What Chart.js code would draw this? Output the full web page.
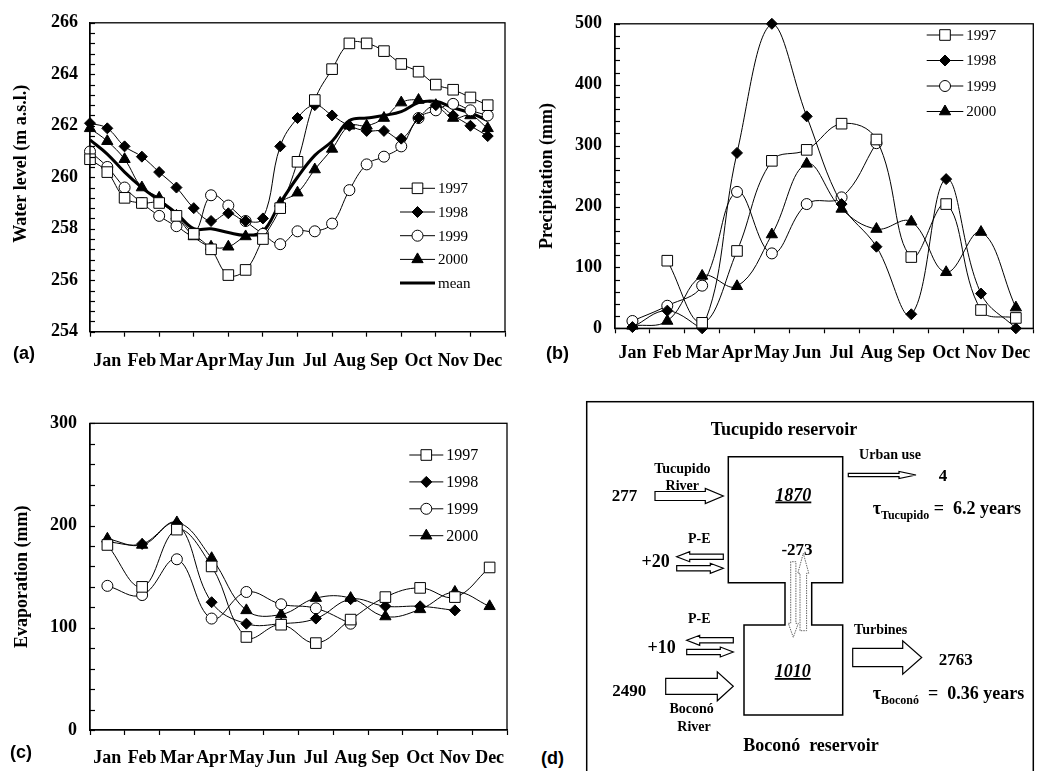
<!DOCTYPE html>
<html>
<head>
<meta charset="utf-8">
<script src="https://cdn.jsdelivr.net/npm/chart.js@4.4.1/dist/chart.umd.min.js"></script>
<style>
  html, body { margin: 0; padding: 0; background: #fff; }
  body { width: 1043px; height: 771px; position: relative; overflow: hidden; }
  .painel { position: absolute; }
  .letra { position: absolute; font: bold 18px "Liberation Sans", Arial, sans-serif; line-height: 20px; color: #000; }
  #esquema { position: absolute; left: 0; top: 0; }
  #esquema text { font-family: "Liberation Serif", "Times New Roman", serif; font-weight: bold; fill: #000; white-space: pre; }
</style>
</head>
<body>
<div class="painel" style="left:0;top:0;width:520px;height:380px"><canvas id="grafico-nivel"></canvas></div>
<div class="painel" style="left:520px;top:0;width:523px;height:380px"><canvas id="grafico-chuva"></canvas></div>
<div class="painel" style="left:0;top:390px;width:520px;height:381px"><canvas id="grafico-evap"></canvas></div>

<div class="letra" style="left:13px;top:343px">(a)</div>
<div class="letra" style="left:546px;top:343px">(b)</div>
<div class="letra" style="left:10px;top:742px">(c)</div>
<div class="letra" style="left:541px;top:748px">(d)</div>

<svg id="esquema" width="1043" height="771" xmlns="http://www.w3.org/2000/svg"></svg>

<script>
// ---- dados ----
const meses = ["Jan", "Feb", "Mar", "Apr", "May", "Jun", "Jul", "Aug", "Sep", "Oct", "Nov", "Dec"];
const marcasMes = [0, 0.5, 1, 1.5, 2, 2.5, 3, 3.5, 4, 4.5, 5, 5.5, 6, 6.5, 7, 7.5, 8, 8.5, 9, 9.5, 10, 10.5, 11, 11.5, 12];
const quinzenas = [0, 0.5, 1, 1.5, 2, 2.5, 3, 3.5, 4, 4.5, 5, 5.5, 6, 6.5, 7, 7.5, 8, 8.5, 9, 9.5, 10, 10.5, 11, 11.5];
const meioMes = [0.5, 1.5, 2.5, 3.5, 4.5, 5.5, 6.5, 7.5, 8.5, 9.5, 10.5, 11.5];

// (a) nivel da agua (m a.s.l.), duas leituras por mes
const nivel1997 = [260.7, 260.2, 259.2, 259.0, 259.0, 258.5, 257.8, 257.2, 256.2, 256.4, 257.6, 258.8, 260.6, 263.0, 264.2, 265.2, 265.2, 264.9, 264.4, 264.1, 263.6, 263.4, 263.1, 262.8];
const nivel1998 = [262.1, 261.9, 261.2, 260.8, 260.2, 259.6, 258.8, 258.3, 258.6, 258.3, 258.4, 261.2, 262.3, 262.8, 262.4, 262.0, 261.8, 261.8, 261.5, 262.3, 262.8, 262.4, 262.0, 261.6];
const nivel1999 = [261.0, 260.4, 259.6, 259.0, 258.5, 258.1, 257.8, 259.3, 258.9, 258.3, 257.8, 257.4, 257.9, 257.9, 258.2, 259.5, 260.5, 260.8, 261.2, 262.3, 262.6, 262.85, 262.6, 262.4];
const nivel2000 = [261.9, 261.4, 260.7, 259.6, 259.2, 258.5, 257.7, 257.3, 257.3, 257.7, 257.8, 259.0, 259.4, 260.3, 261.1, 262.0, 262.0, 262.3, 262.9, 263.0, 262.8, 262.3, 262.4, 261.9];
const nivelMedia = [261.45, 260.9, 260.2, 259.6, 259.1, 258.6, 258.0, 258.0, 257.85, 257.75, 257.9, 259.0, 260.0, 260.85, 261.4, 262.2, 262.3, 262.4, 262.55, 262.9, 262.95, 262.7, 262.5, 262.2];
const rotulosNivel = [254, 256, 258, 260, 262, 264, 266];

// (b) precipitacao (mm)
const chuva1997 = [null, 111, 9, 127, 275, 293, 336, 310, 117, 204, 30, 17];
const chuva1998 = [2, 29, 0, 288, 500, 348, 204, 134, 23, 245, 57, 0];
const chuva1999 = [12, 37, 70, 224, 123, 204, 215, 304, null, null, null, null];
const chuva2000 = [4, 12, 86, 69, 154, 270, 196, 163, 175, 92, 158, 34];
const rotulosChuva = [0, 100, 200, 300, 400, 500];

// (c) evaporacao (mm)
const evap1997 = [181, 140, 196, 160, 91, 103, 85, 108, 130, 139, 130, 159];
const evap1998 = [184, 182, 202, 125, 104, 104, 109, 128, 121, 121, 117, null];
const evap1999 = [141, 132, 167, 109, 135, 123, 119, 104, null, null, null, null];
const evap2000 = [187, 181, 203, 168, 117, 113, 129, 129, 111, 118, 135, 121];
const rotulosEvap = [0, 100, 200, 300];

// ---- estilos ----
const serif = "'Liberation Serif', 'Times New Roman', serif";
const fonteEixoX = { family: serif, size: 18, weight: "bold" };
const fonteEixoY = { family: serif, size: 18, weight: "bold" };
const fonteTitulo = { family: serif, size: 18, weight: "bold" };

const marcadores = {
    "1997": { pointStyle: "rect", pointRadius: 7.5, pointBackgroundColor: "#fff" },
    "1998": { pointStyle: "rectRot", pointRadius: 5.5, pointBackgroundColor: "#000" },
    "1999": { pointStyle: "circle", pointRadius: 5.5, pointBackgroundColor: "#fff" },
    "2000": { pointStyle: "triangle", pointRadius: 6.5, pointBackgroundColor: "#000" },
    "mean": { pointStyle: "circle", pointRadius: 0, pointBackgroundColor: "#000", borderWidth: 3 }
};

function serie(label, xs, ys) {
    return Object.assign({
        label: label,
        data: ys.map((v, i) => ({ x: xs[i], y: v })),
        borderColor: "#000",
        borderWidth: 1,
        pointBorderColor: "#000",
        pointBorderWidth: 1,
        pointHoverRadius: 0,
        tension: 0.4,
        clip: false
    }, marcadores[label]);
}

// moldura do grafico + tracos internos no eixo y
const molduraPlugin = {
    id: "moldura",
    afterDraw(chart) {
        const { ctx, chartArea: a, scales } = chart;
        ctx.save();
        ctx.strokeStyle = "#000";
        ctx.lineWidth = 1.3;
        ctx.strokeRect(a.left, a.top, a.right - a.left, a.bottom - a.top);
        ctx.lineWidth = 1.2;
        scales.y.ticks.forEach(t => {
            const py = Math.round(scales.y.getPixelForValue(t.value)) + 0.5;
            ctx.beginPath();
            ctx.moveTo(a.left, py);
            ctx.lineTo(a.left + 5, py);
            ctx.stroke();
        });
        ctx.restore();
    }
};

// legenda desenhada dentro da area
const legendaPlugin = {
    id: "legenda",
    afterDraw(chart, args, opts) {
        const ctx = chart.ctx;
        ctx.save();
        ctx.font = opts.fonte;
        ctx.textBaseline = "middle";
        ctx.textAlign = "left";
        chart.data.datasets.forEach((ds, i) => {
            const y = opts.y + i * opts.gap;
            ctx.strokeStyle = "#000";
            ctx.lineWidth = ds.borderWidth;
            ctx.beginPath();
            ctx.moveTo(opts.x, y);
            ctx.lineTo(opts.x + opts.len, y);
            ctx.stroke();
            if (ds.pointRadius > 0) {
                ctx.fillStyle = ds.pointBackgroundColor;
                ctx.lineWidth = 1;
                Chart.helpers.drawPoint(ctx, { pointStyle: ds.pointStyle, radius: ds.pointRadius, rotation: 0, borderWidth: 1 }, opts.x + opts.len / 2, y);
            }
            ctx.fillStyle = "#000";
            ctx.fillText(ds.label, opts.x + opts.len + 3, y + 1);
        });
        ctx.restore();
    }
};

function opcoes(c) {
    return {
        responsive: true,
        maintainAspectRatio: false,
        animation: false,
        events: [],
        layout: { padding: c.padding },
        plugins: {
            legend: { display: false },
            tooltip: { enabled: false },
            legenda: c.legenda
        },
        scales: {
            x: {
                type: "linear",
                min: 0,
                max: 12,
                afterBuildTicks: s => { s.ticks = marcasMes.map(v => ({ value: v })); },
                afterFit: s => { s.height = c.alturaX; },
                grid: {
                    drawOnChartArea: false,
                    tickLength: 5,
                    tickWidth: 1.2,
                    tickColor: k => (k.tick && Number.isInteger(k.tick.value)) ? "#000" : "rgba(0,0,0,0)"
                },
                border: { color: "#000", width: 1.3 },
                ticks: {
                    autoSkip: false,
                    maxRotation: 0,
                    padding: c.padX,
                    color: "#000",
                    font: fonteEixoX,
                    callback: v => Number.isInteger(v) ? "" : meses[Math.floor(v)]
                }
            },
            y: {
                type: "linear",
                min: c.min,
                max: c.max,
                afterFit: s => { s.width = c.larguraY; },
                grid: { display: false, drawTicks: false },
                border: { color: "#000", width: 1.3 },
                ticks: {
                    stepSize: c.passo,
                    autoSkip: false,
                    padding: c.padY,
                    color: "#000",
                    font: fonteEixoY,
                    callback: v => c.rotulos.includes(v) ? v : ""
                },
                title: {
                    display: true,
                    text: c.titulo,
                    color: "#000",
                    font: fonteTitulo,
                    padding: { top: c.padTitulo, bottom: 0 }
                }
            }
        }
    };
}

const ctxNivel = document.getElementById("grafico-nivel");
if (ctxNivel) {
    new Chart(ctxNivel, {
        type: "line",
        data: {
            datasets: [
                serie("1997", quinzenas, nivel1997),
                serie("1998", quinzenas, nivel1998),
                serie("1999", quinzenas, nivel1999),
                serie("2000", quinzenas, nivel2000),
                serie("mean", quinzenas, nivelMedia)
            ]
        },
        options: opcoes({
            padding: { left: 0, right: 15, top: 14, bottom: 0 },
            alturaX: 48.3, larguraY: 90, padX: 14, padY: 12, padTitulo: 11,
            min: 254, max: 266, passo: 0.4, rotulos: rotulosNivel,
            // espacos no inicio sobem o titulo, como no original
            titulo: "      Water level (m a.s.l.)",
            legenda: { x: 400, y: 188.3, gap: 23.7, len: 35, fonte: "15px " + serif }
        }),
        plugins: [molduraPlugin, legendaPlugin]
    });
}

const ctxChuva = document.getElementById("grafico-chuva");
if (ctxChuva) {
    new Chart(ctxChuva, {
        type: "line",
        data: {
            datasets: [
                serie("1997", meioMes, chuva1997),
                serie("1998", meioMes, chuva1998),
                serie("1999", meioMes, chuva1999),
                serie("2000", meioMes, chuva2000)
            ]
        },
        options: opcoes({
            padding: { left: 0, right: 9.7, top: 14, bottom: 0 },
            alturaX: 51.7, larguraY: 95, padX: 9, padY: 13, padTitulo: 17,
            min: 0, max: 500, passo: 20, rotulos: rotulosChuva,
            titulo: "Precipitation (mm)",
            legenda: { x: 406.7, y: 35, gap: 25.5, len: 36.6, fonte: "15px " + serif }
        }),
        plugins: [molduraPlugin, legendaPlugin]
    });
}

const ctxEvap = document.getElementById("grafico-evap");
if (ctxEvap) {
    new Chart(ctxEvap, {
        type: "line",
        data: {
            datasets: [
                serie("1997", meioMes, evap1997),
                serie("1998", meioMes, evap1998),
                serie("1999", meioMes, evap1999),
                serie("2000", meioMes, evap2000)
            ]
        },
        options: opcoes({
            padding: { left: 0, right: 12.7, top: 33.3, bottom: 0 },
            alturaX: 41, larguraY: 90, padX: 13, padY: 13, padTitulo: 12,
            min: 0, max: 300, passo: 20, rotulos: rotulosEvap,
            titulo: "Evaporation (mm)",
            legenda: { x: 409.3, y: 65, gap: 26.9, len: 34, fonte: "16px " + serif }
        }),
        plugins: [molduraPlugin, legendaPlugin]
    });
}

// ---- (d) esquema dos reservatorios ----
const svg = document.getElementById("esquema");
const NS = "http://www.w3.org/2000/svg";

function el(tag, attrs, pai) {
    const e = document.createElementNS(NS, tag);
    Object.keys(attrs).forEach(k => e.setAttribute(k, attrs[k]));
    (pai || svg).appendChild(e);
    return e;
}

function pts(lista) {
    return lista.map(p => p[0].toFixed(1) + "," + p[1].toFixed(1)).join(" ");
}

// seta horizontal: cauda x0, ponta x1
function seta(x0, x1, yc, sh, hh, hl, extra) {
    const d = x1 > x0 ? 1 : -1;
    const b = x1 - d * hl;
    el("polygon", Object.assign({
        points: pts([[x0, yc - sh], [b, yc - sh], [b, yc - hh], [x1, yc], [b, yc + hh], [b, yc + sh], [x0, yc + sh]]),
        fill: "#fff", stroke: "#000", "stroke-width": 1.2
    }, extra || {}));
}

// seta vertical: cauda y0, ponta y1
function setaV(xc, y0, y1, sh, hh, hl, extra) {
    const d = y1 > y0 ? 1 : -1;
    const b = y1 - d * hl;
    el("polygon", Object.assign({
        points: pts([[xc - sh, y0], [xc - sh, b], [xc - hh, b], [xc, y1], [xc + hh, b], [xc + sh, b], [xc + sh, y0]]),
        fill: "none", stroke: "#000", "stroke-width": 1.2
    }, extra || {}));
}

function texto(t, x, y, size, extra) {
    const e = el("text", Object.assign({ x: x, y: y, "font-size": size, "text-anchor": "middle" }, extra || {}));
    e.textContent = t;
    return e;
}

// moldura
el("rect", { x: 586.7, y: 401.7, width: 446.6, height: 380, fill: "none", stroke: "#000", "stroke-width": 1.5 });

// reservatorios (contorno unico)
el("polygon", {
    points: pts([[728.3, 456.7], [842.7, 456.7], [842.7, 582.7], [811.7, 582.7], [811.7, 625], [842.7, 625],
                 [842.7, 715], [744, 715], [744, 625], [785, 625], [785, 582.7], [728.3, 582.7]]),
    fill: "none", stroke: "#000", "stroke-width": 1.5
});

// setas
seta(655, 723.3, 496, 4.5, 7.5, 18);
seta(848.3, 916, 475, 1.7, 3.5, 17);
seta(723.3, 676.7, 556.7, 2.6, 5, 13);
seta(676.7, 723.3, 568.3, 2.6, 5, 13);
seta(733.3, 686.7, 640.3, 2.6, 5, 13);
seta(686.7, 733.3, 652, 2.6, 5, 13);
seta(665.7, 733.3, 686.3, 8, 14.5, 16);
seta(852.7, 921.7, 657.5, 9.2, 16.7, 19);
setaV(793.3, 561.7, 637.3, 2.6, 5, 14, { stroke: "#666", "stroke-dasharray": "1.5 1", "stroke-width": 1 });
setaV(803.3, 630.7, 553.3, 3.3, 5.5, 20, { stroke: "#666", "stroke-dasharray": "1.5 1", "stroke-width": 1 });

// textos
texto("Tucupido reservoir", 784, 434.5, 18);
texto("Urban use", 890, 459, 14);
texto("Tucupido", 682.3, 472.5, 14);
texto("River", 682.3, 490, 14);
texto("277", 624.5, 500.5, 17);
texto("4", 943, 481, 17);
texto("1870", 793.3, 500.5, 18, { "font-style": "italic", "text-decoration": "underline" });
texto("P-E", 699.3, 543, 14);
texto("-273", 797, 555, 17);
texto("+20", 655.7, 566.7, 18);
texto("P-E", 699.3, 622.5, 14);
texto("+10", 661.7, 652.7, 18);
texto("Turbines", 880.7, 634, 14);
texto("1010", 792.7, 677, 18, { "font-style": "italic", "text-decoration": "underline" });
texto("2763", 955.7, 664.5, 17);
texto("2490", 629.3, 696, 17);
texto("Boconó", 691.7, 713, 14);
texto("River", 694, 731, 14);
texto("Boconó  reservoir", 811, 750.5, 18);

const tau1 = el("text", { x: 872.7, y: 513.5, "font-size": 18, "text-anchor": "start" });
tau1.innerHTML = 'τ<tspan font-size="12" dy="5">Tucupido</tspan><tspan dy="-5"> =  6.2 years</tspan>';
const tau2 = el("text", { x: 872.7, y: 699, "font-size": 18, "text-anchor": "start" });
tau2.innerHTML = 'τ<tspan font-size="12" dy="5">Boconó</tspan><tspan dy="-5">  =  0.36 years</tspan>';
</script>
</body>
</html>
